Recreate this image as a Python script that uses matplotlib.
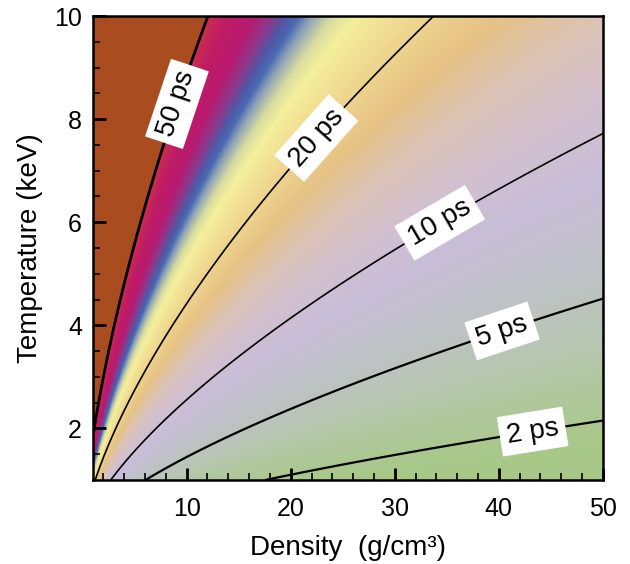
import numpy as np
import matplotlib
matplotlib.use("Agg")
import matplotlib.pyplot as plt
from matplotlib.colors import LinearSegmentedColormap, Normalize

plt.rcParams['font.family'] = ['Liberation Sans', 'DejaVu Sans']

# contour lines: density (g/cm3) and temperature (keV)
levels = [2, 5, 10, 20, 50]
rho_2ps = [18.0, 24.7, 34.3, 50.0]
T_2ps = [1.0, 1.32, 1.62, 2.1]
rho_5ps = [5.8, 13.5, 24.7, 31.1, 40.4, 50.0]
T_5ps = [1.0, 1.84, 2.78, 3.23, 3.9, 4.46]
rho_10ps = [2.7, 7.6, 9.96, 13.5, 25.7, 28.9, 41.7, 50.0]
T_10ps = [1.0, 2.17, 2.55, 3.33, 4.88, 5.3, 6.83, 7.7]
rho_20ps = [1.32, 4.0, 7.1, 10.6, 13.5, 19.6, 25.4, 33.0]
T_20ps = [1.0, 2.23, 3.52, 4.63, 5.4, 6.89, 8.31, 10.0]
rho_50ps = [1.0, 1.45, 2.0, 3.6, 4.87, 6.2, 7.6, 10.5, 11.9]
T_50ps = [2.05, 2.4, 2.88, 4.17, 5.47, 6.5, 7.4, 9.16, 10.0]

label_text = {2: '2 ps', 5: '5 ps', 10: '10 ps', 20: '20 ps', 50: '50 ps'}
label_pos = [(9.0, 8.3), (22.1, 7.7), (34.0, 6.1), (40.3, 3.9), (43.3, 1.87)]

# colour scale (time in ps -> colour), above 50 ps is flat brown
cmap_t = [0, 1.5, 4, 6, 8.5, 11, 14, 17, 21, 25, 27, 29.3, 30.8, 32.3,
          34.5, 38, 44, 47.5, 50]
cmap_c = ['#a6c785', '#a9c98a', '#b8c6b4', '#c0c2c8', '#c8bdd8', '#d2c0d0',
          '#dcc4b6', '#e6c285', '#f0d890', '#f4f09c', '#d8dca0', '#8aa0b8',
          '#4a6ab2', '#5058a6', '#8a3a8c', '#b81a70', '#c01c64', '#c42858',
          '#c83048']
over_color = '#a94c1f'

# smooth field through the read contour points (quadratic in log-log)
pts_r, pts_T, pts_t = [], [], []
for lev, rr, tt in zip(levels, [rho_2ps, rho_5ps, rho_10ps, rho_20ps, rho_50ps],
                       [T_2ps, T_5ps, T_10ps, T_20ps, T_50ps]):
    pts_r += rr
    pts_T += tt
    pts_t += [lev] * len(rr)
x = np.log(pts_r)
y = np.log(pts_T)
z = np.log(pts_t)


def design(x, y):
    return np.stack([np.ones_like(x), x, y, x * x, x * y, y * y], axis=-1)


coef, *_ = np.linalg.lstsq(design(x, y), z, rcond=None)

rg = np.linspace(1, 50, 600)
Tg = np.linspace(1, 10, 600)
R, T = np.meshgrid(rg, Tg)
tfield = np.exp(design(np.log(R), np.log(T)) @ coef)

cmap = LinearSegmentedColormap.from_list(
    'tau', list(zip(np.array(cmap_t) / 50.0, cmap_c)))
cmap.set_over(over_color)

fig = plt.figure(figsize=(6.3, 5.64), dpi=100)
ax = fig.add_axes([0.1476, 0.149, 0.8094, 0.8226])
ax.imshow(tfield, origin='lower', extent=[1, 50, 1, 10], aspect='auto',
          cmap=cmap, norm=Normalize(0, 50), interpolation='bilinear')
cs = ax.contour(R, T, tfield, levels=levels, colors='k',
                linewidths=[1.6, 1.6, 1.2, 1.2, 2.0])
labels = ax.clabel(cs, fmt=label_text, manual=label_pos, inline=True,
                   inline_spacing=2, fontsize=20)
for lab in labels:
    lab.set_bbox(dict(boxstyle='square,pad=0.25', fc='white', ec='none'))

ax.set_xlim(1, 50)
ax.set_ylim(1, 10)
ax.set_xticks([10, 20, 30, 40, 50])
ax.set_xticks(np.arange(2, 50, 2), minor=True)
ax.set_yticks([2, 4, 6, 8, 10])
ax.set_yticks(np.arange(1.5, 10, 0.5), minor=True)
ax.tick_params(which='both', direction='in', top=False, right=False,
               labelsize=18, width=1.2)
ax.tick_params(which='major', length=9, width=2)
ax.tick_params(which='minor', length=5)
ax.tick_params(axis='x', which='major', pad=12)
ax.tick_params(axis='y', which='major', pad=8)
for sp in ax.spines.values():
    sp.set_linewidth(1.8)
ax.set_xlabel('Density  (g/cm\u00b3)', fontsize=20, labelpad=10)
ax.set_ylabel('Temperature (keV)', fontsize=20, labelpad=8)

fig.savefig('out.png', dpi=100)
